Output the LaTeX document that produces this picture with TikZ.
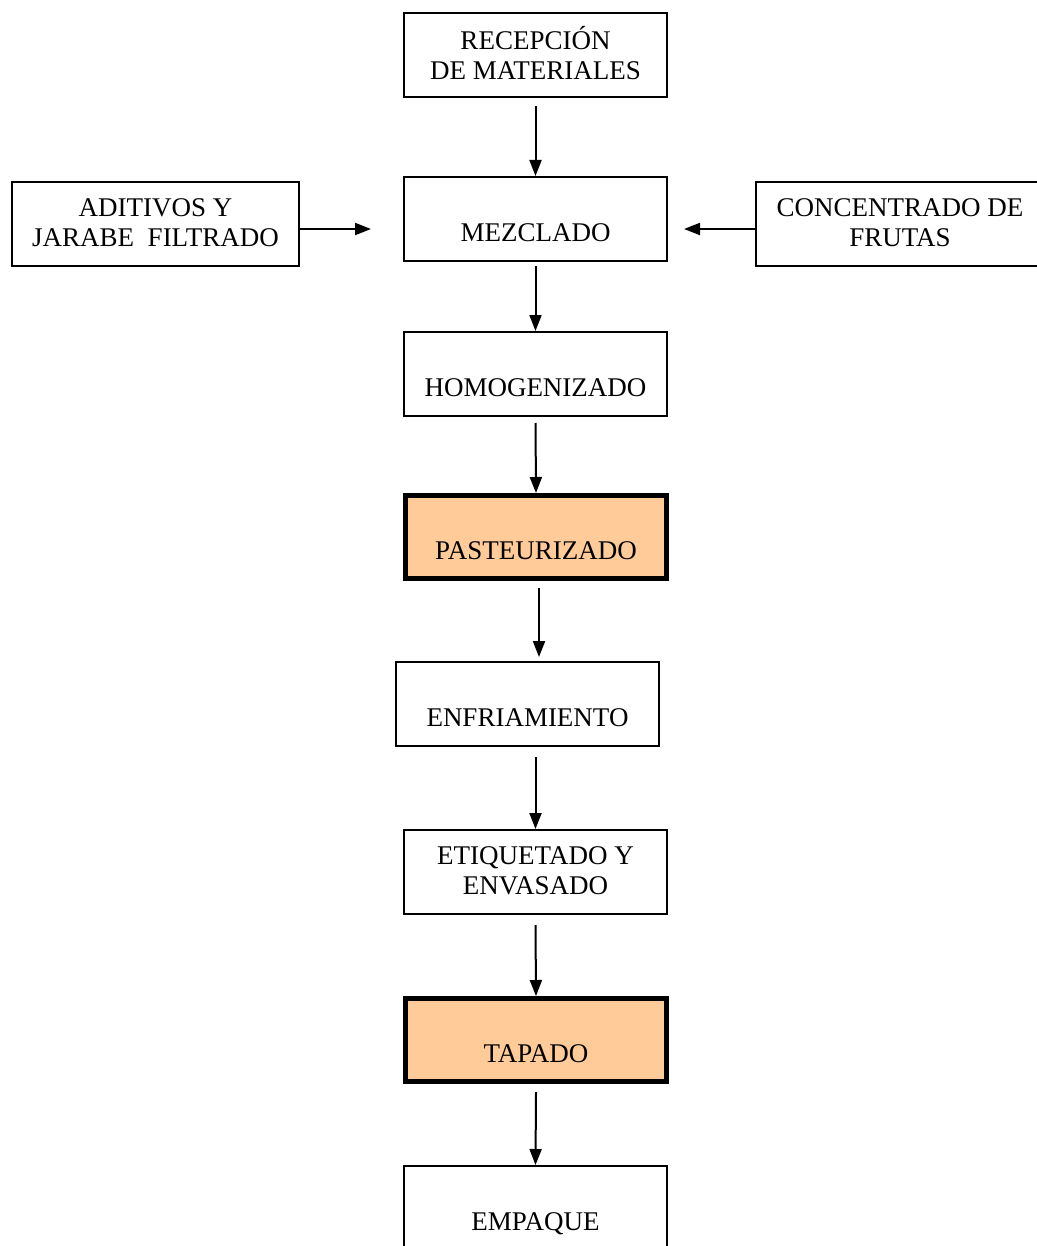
\documentclass[tikz,border=0pt]{standalone}
\usepackage{fontspec}
\setmainfont{Liberation Serif}
\usetikzlibrary{arrows.meta}
\definecolor{durazno}{RGB}{255,204,153}
\newcommand{\pie}{\rule[-3pt]{0pt}{3pt}}

\begin{document}
\begin{tikzpicture}[x=0.5pt,y=-0.5pt]
\tikzstyle{proceso}=[rectangle, draw, line width=1pt, minimum width=131.5pt, minimum height=42pt, inner sep=0pt, align=center, font=\fontsize{13.5}{15}\selectfont]
\tikzstyle{critico}=[proceso, fill=durazno, line width=2.5pt, minimum width=130.5pt, minimum height=41.5pt]
\tikzstyle{flecha}=[-{Triangle[width=6pt,length=8pt]}, line width=1pt]

\useasboundingbox (0,0) rectangle (1037,1246);

\node[proceso] (recep) at (535.5,55.5) {\strut RECEPCIÓN\\DE MATERIALES\pie};
\node[proceso] (mezcl) at (535.5,219) {\strut\\MEZCLADO\pie};
\node[proceso, minimum width=143.5pt] (adit) at (155.5,224) {\strut ADITIVOS Y\\JARABE~~FILTRADO\pie};
\node[proceso, minimum width=144pt] (conc) at (900,224) {\strut CONCENTRADO DE\\FRUTAS\pie};
\node[proceso] (homog) at (535.5,374) {\strut\\HOMOGENIZADO\pie};
\node[critico] (paste) at (536,537) {\strut\\PASTEURIZADO\pie};
\node[proceso] (enfri) at (527.5,704) {\strut\\ENFRIAMIENTO\pie};
\node[proceso] (etiq) at (535.5,872) {\strut ETIQUETADO Y\\ENVASADO\pie};
\node[critico] (tapad) at (536,1040) {\strut\\TAPADO\pie};
\node[proceso] (empaq) at (535.5,1208) {\strut\\EMPAQUE\pie};

\draw[flecha] ([yshift=-4pt]recep.south) -- (mezcl.north);
\draw[flecha] ([yshift=-2.5pt]adit.east) -- ([xshift=-16pt,yshift=-5pt]mezcl.west);
\draw[flecha] ([yshift=-2.5pt]conc.west) -- ([xshift=8pt,yshift=-5pt]mezcl.east);
\draw[flecha] ([yshift=-2pt]mezcl.south) -- (homog.north);
\draw[flecha] ([yshift=-3pt]homog.south) -- (paste.north);
\draw[flecha] ([xshift=1.5pt,yshift=-3.5pt]paste.south) -- ([xshift=1.5pt,yshift=2pt]paste.south |- enfri.north);
\draw[flecha] ([yshift=-5pt]enfri.south -| etiq.north) -- (etiq.north);
\draw[flecha] ([yshift=-5pt]etiq.south) -- (tapad.north);
\draw[flecha] ([yshift=-4pt]tapad.south) -- (empaq.north);
\end{tikzpicture}
\end{document}
